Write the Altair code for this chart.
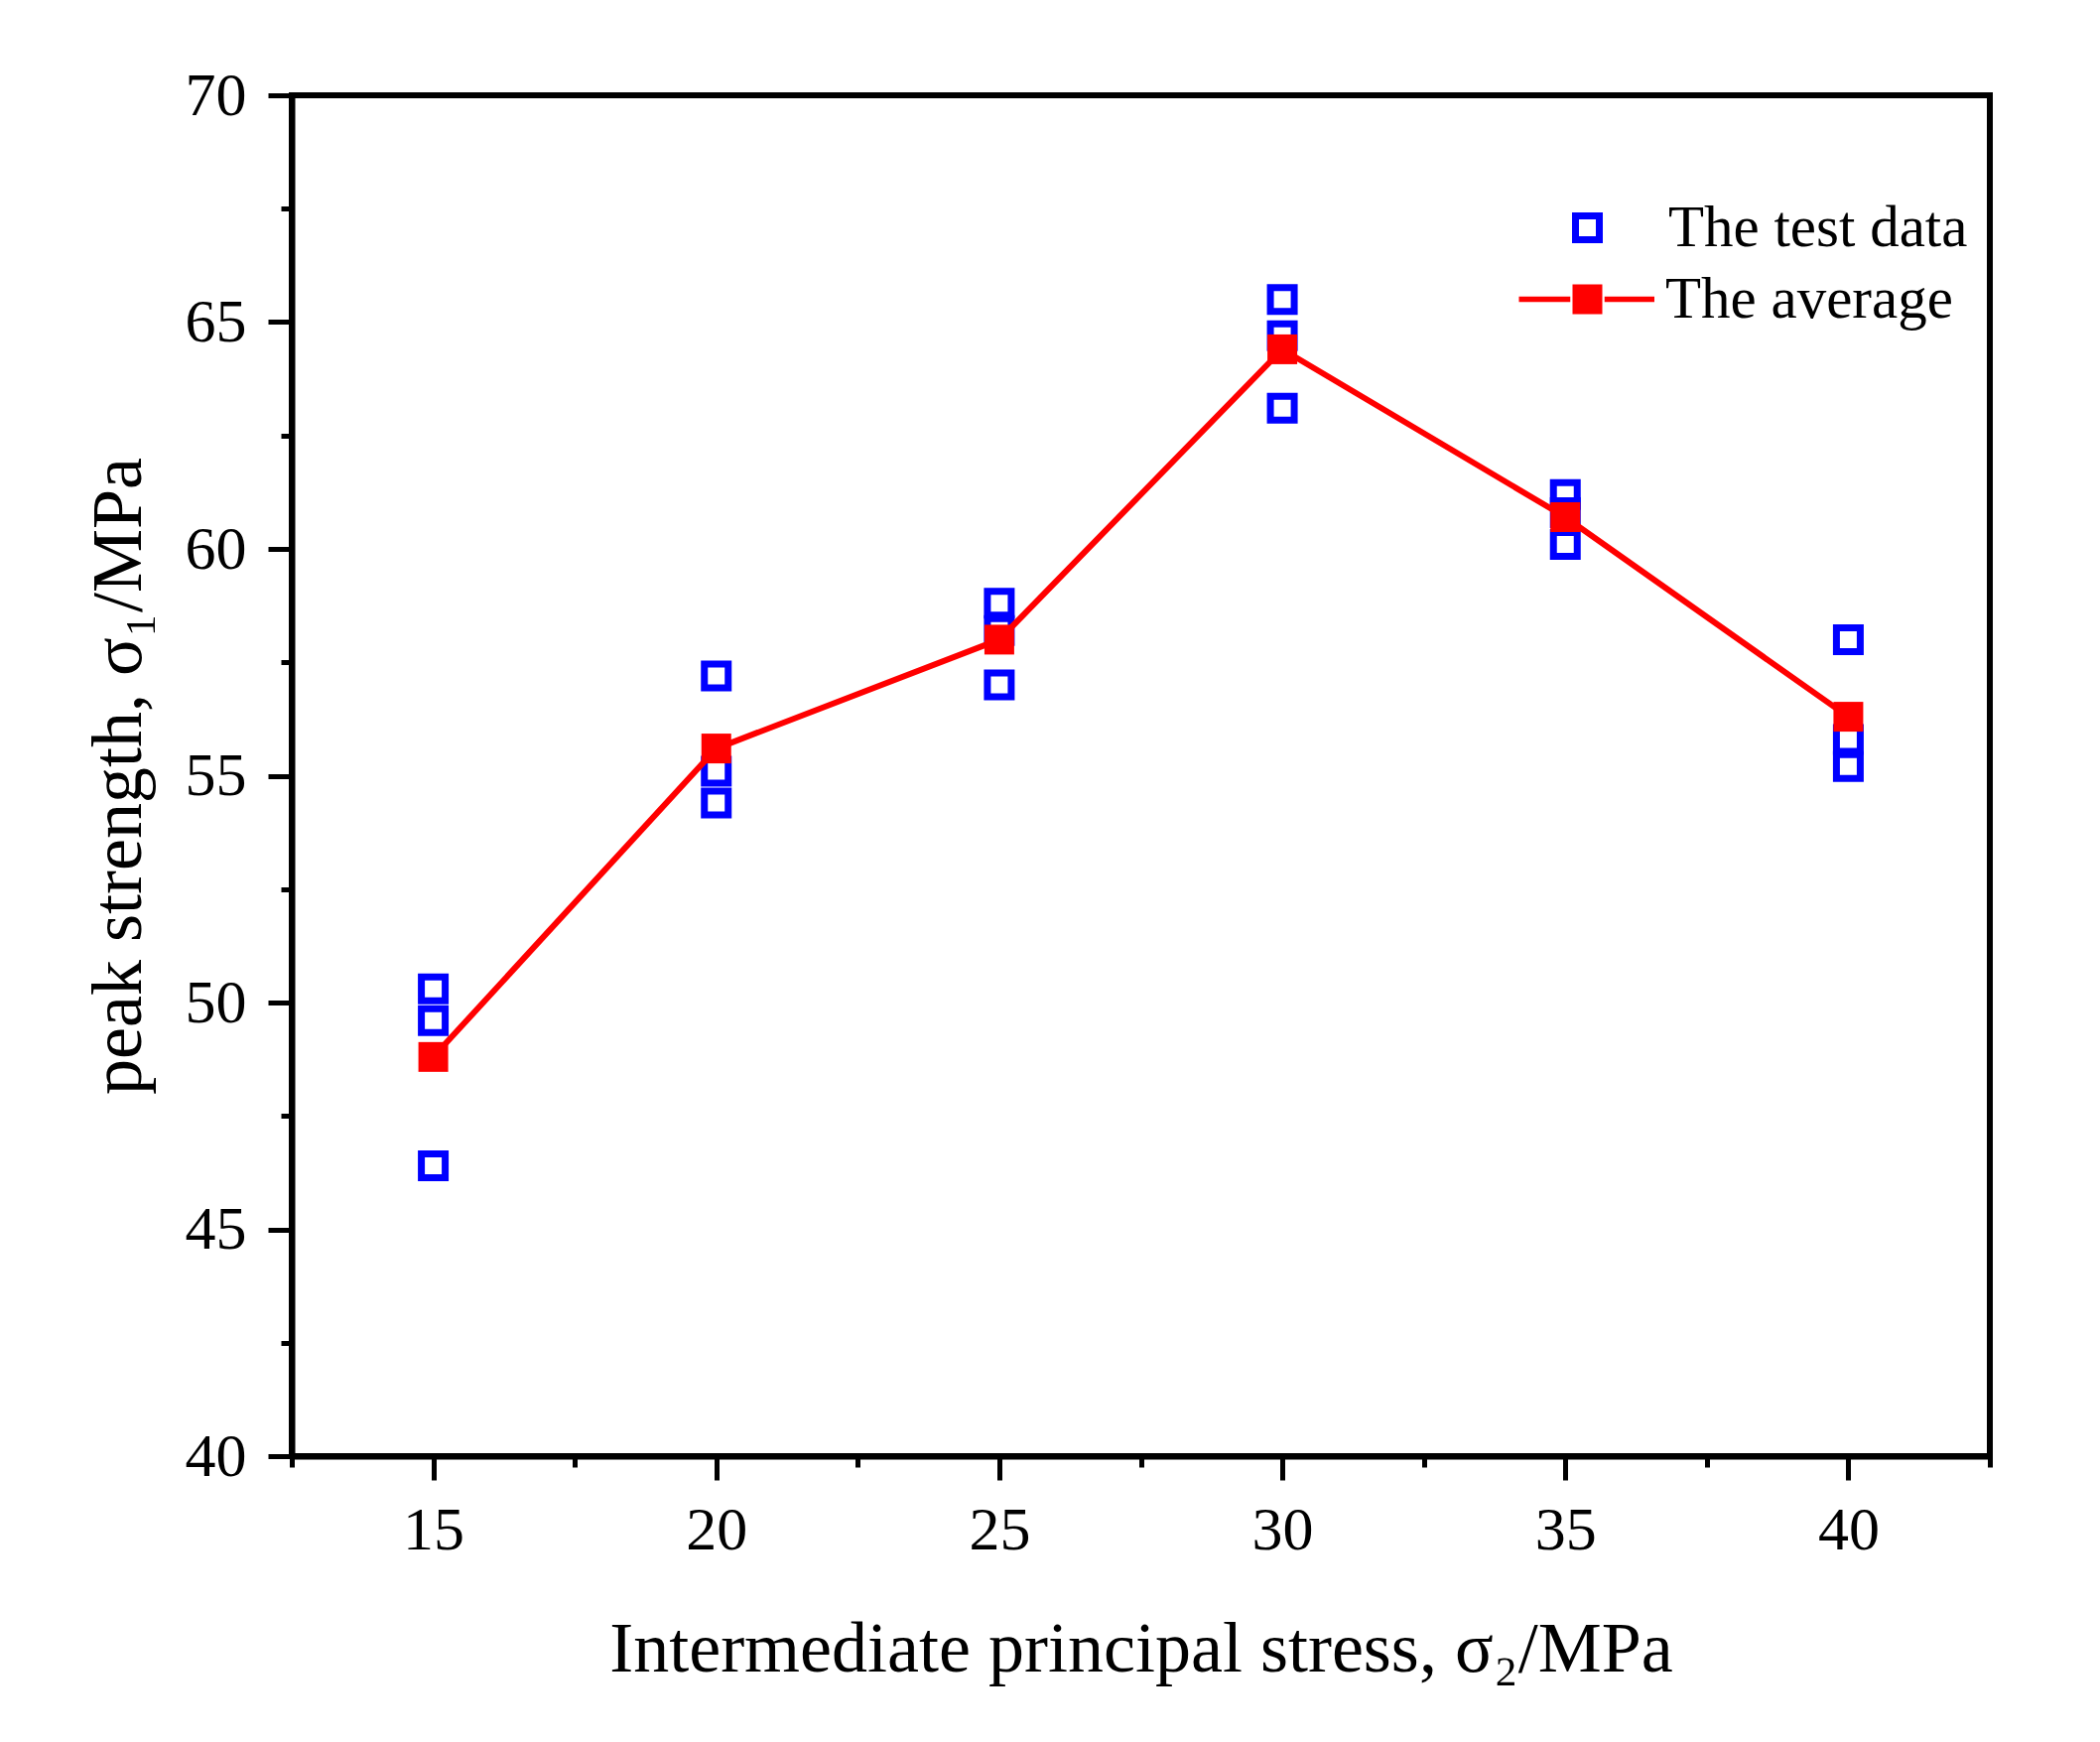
import altair as alt
import pandas as pd

# intermediate principal stress levels (MPa)
sigma2 = [15, 20, 25, 30, 35, 40]

# three test specimens per level, peak strength (MPa)
test_a = [50.3, 57.2, 58.8, 65.5, 61.2, 58.0]
test_b = [49.6, 55.1, 58.2, 64.7, 60.8, 55.8]
test_c = [46.4, 54.4, 57.0, 63.1, 60.1, 55.2]

# average of the three tests
average = [48.8, 55.6, 58.0, 64.4, 60.7, 56.3]

x_major = [15, 20, 25, 30, 35, 40]
x_minor = [12.5, 17.5, 22.5, 27.5, 32.5, 37.5, 42.5]
y_major = [40, 45, 50, 55, 60, 65, 70]
y_minor = [42.5, 47.5, 52.5, 57.5, 62.5, 67.5]

BLUE = "#0000ff"
RED = "#ff0000"
FONT = "Liberation Serif"

test_df = pd.DataFrame(
    {
        "x": sigma2 * 3,
        "y": test_a + test_b + test_c,
        "series": ["The test data"] * (3 * len(sigma2)),
    }
)
avg_df = pd.DataFrame({"x": sigma2, "y": average, "series": ["The average"] * len(sigma2)})

x_scale = alt.Scale(domain=[12.5, 42.5], nice=False, zero=False)
y_scale = alt.Scale(domain=[40, 70], nice=False, zero=False)

# line - square - line, all filled so it works as a fill legend symbol
avg_symbol = (
    "M-4.6,-0.19H-1.15V0.19H-4.6Z"
    "M1.15,-0.19H4.5V0.19H1.15Z"
    "M-1,-1H1V1H-1Z"
)

legend_text = dict(
    title=None,
    orient="none",
    padding=0,
    labelFont=FONT,
    labelFontSize=59,
    labelColor="black",
    labelLimit=1000,
)

test_legend = alt.Legend(
    legendX=1276,
    legendY=104,
    symbolType="square",
    symbolSize=576,
    symbolStrokeWidth=7,
    labelOffset=52,
    **legend_text,
)
avg_legend = alt.Legend(
    legendX=1276,
    legendY=176,
    symbolType=avg_symbol,
    symbolSize=900,
    labelOffset=49,
    **legend_text,
)

points = (
    alt.Chart(test_df)
    .mark_point(shape="square", filled=False, size=576, strokeWidth=7, opacity=1)
    .encode(
        x=alt.X(
            "x:Q",
            scale=x_scale,
            axis=alt.Axis(
                orient="bottom",
                values=x_major,
                tickSize=24,
                labelPadding=20,
                title="Intermediate principal stress, σ₂/MPa",
                titlePadding=54,
            ),
        ),
        y=alt.Y(
            "y:Q",
            scale=y_scale,
            axis=alt.Axis(
                orient="left",
                values=y_major,
                tickSize=24,
                labelPadding=22,
                title="peak strength, σ₁/MPa",
                titlePadding=30,
            ),
        ),
        stroke=alt.Stroke(
            "series:N",
            scale=alt.Scale(domain=["The test data"], range=[BLUE]),
            legend=test_legend,
        ),
    )
)

line = (
    alt.Chart(avg_df)
    .mark_line(color=RED, strokeWidth=6)
    .encode(
        x=alt.X(
            "x:Q",
            scale=x_scale,
            axis=alt.Axis(orient="bottom", values=x_minor, tickSize=11, labels=False, domain=False, title=None),
        ),
        y=alt.Y(
            "y:Q",
            scale=y_scale,
            axis=alt.Axis(orient="left", values=y_minor, tickSize=11, labels=False, domain=False, title=None),
        ),
    )
)

avg_points = (
    alt.Chart(avg_df)
    .mark_square(size=900, opacity=1)
    .encode(
        x=alt.X("x:Q", scale=x_scale, axis=None),
        y=alt.Y("y:Q", scale=y_scale, axis=None),
        fill=alt.Fill(
            "series:N",
            scale=alt.Scale(domain=["The average"], range=[RED]),
            legend=avg_legend,
        ),
    )
)

chart = (
    alt.layer(points, line, avg_points)
    .resolve_axis(x="independent", y="independent")
    .resolve_scale(stroke="independent", fill="independent")
    .properties(
        width=1711,
        height=1371,
        autosize=alt.AutoSizeParams(type="none"),
        padding={"left": 286, "top": 88, "right": 98, "bottom": 280},
        background="white",
    )
    .configure_view(stroke="black", strokeWidth=6)
    .configure_axis(
        grid=False,
        domainColor="black",
        domainWidth=6,
        tickColor="black",
        tickWidth=5,
        labelFont=FONT,
        labelFontSize=62,
        labelColor="black",
        labelFlush=False,
        labelOverlap=False,
        titleFont=FONT,
        titleFontSize=72,
        titleFontWeight="normal",
        titleColor="black",
    )
)

chart.save("out.html", embed_options={"renderer": "svg", "actions": False})
